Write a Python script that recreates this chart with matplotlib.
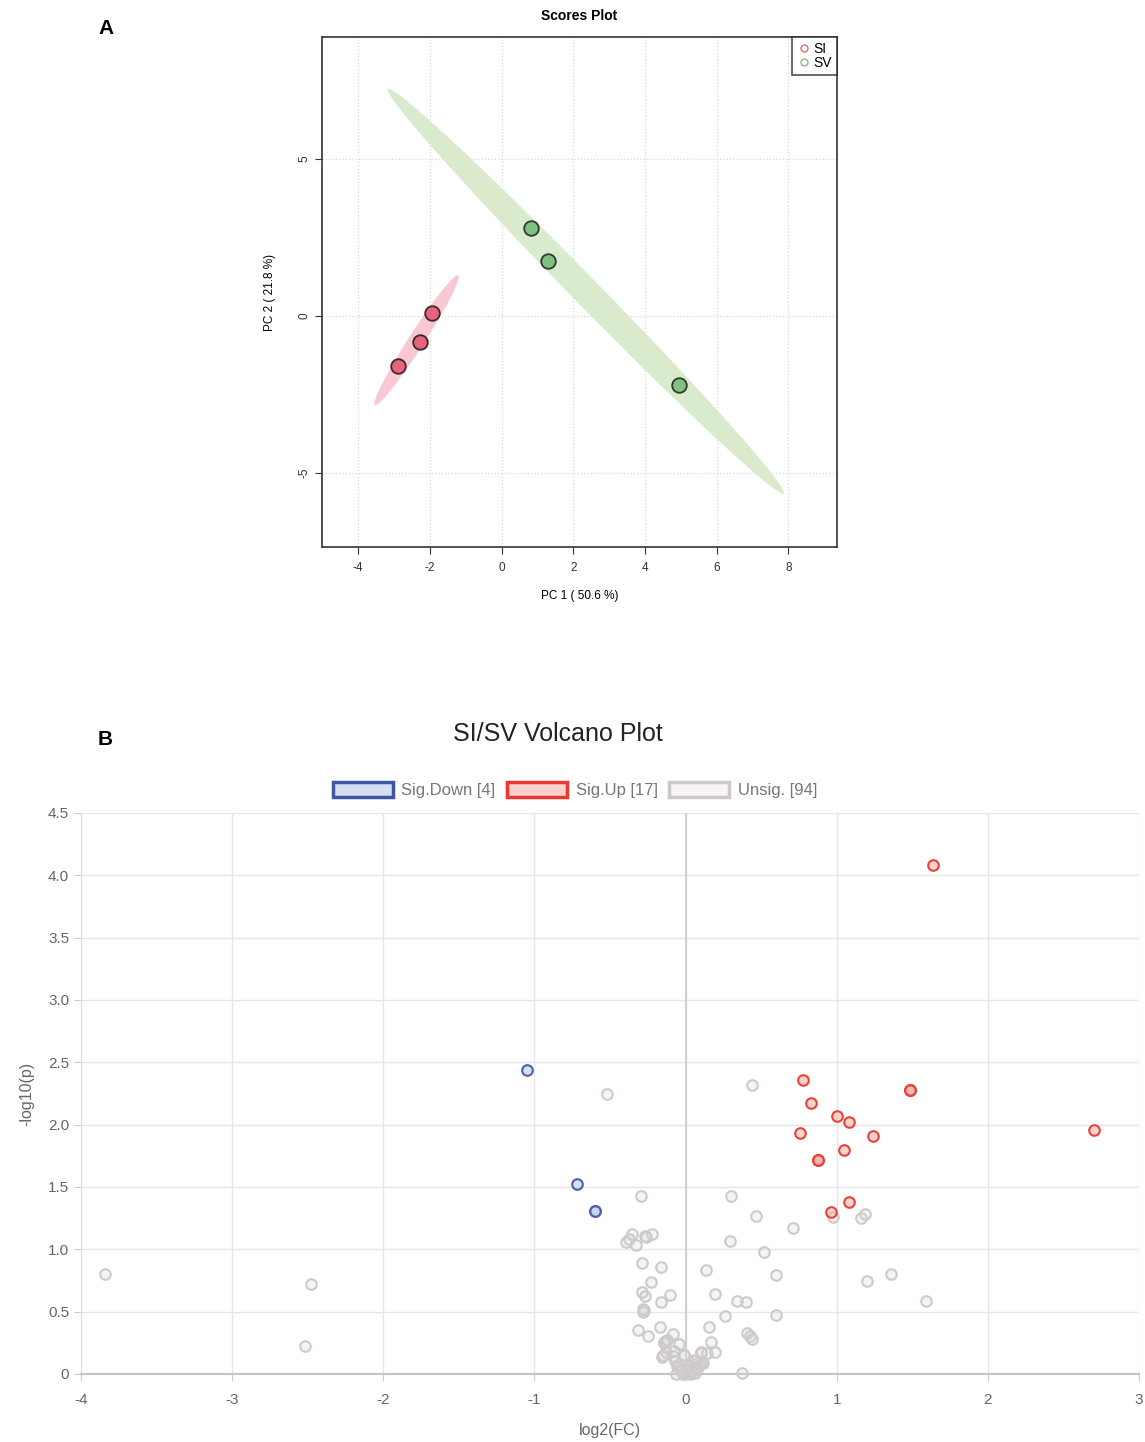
import numpy as np
import matplotlib.pyplot as plt
from matplotlib.patches import Ellipse, Patch
from matplotlib.lines import Line2D

plt.rcParams['font.family'] = ['Liberation Sans', 'DejaVu Sans']
plt.rcParams['axes.unicode_minus'] = False

# PCA scores
si_pc1 = [-2.89, -2.28, -1.94]
si_pc2 = [-1.59, -0.83, 0.10]
sv_pc1 = [0.82, 1.29, 4.95]
sv_pc2 = [2.80, 1.75, -2.20]

# volcano: log2 fold change and -log10(p)
down_fc = [-1.05, -0.72, -0.60, -0.60]
down_p = [2.44, 1.52, 1.31, 1.31]
up_fc = [1.635, 0.776, 0.827, 1.00, 1.079, 0.759, 1.24, 1.048, 0.878, 0.878, 0.878,
         1.485, 1.485, 1.485, 2.70, 1.081, 0.962]
up_p = [4.08, 2.36, 2.17, 2.07, 2.02, 1.93, 1.91, 1.80, 1.72, 1.72, 1.72,
        2.28, 2.28, 2.28, 1.96, 1.38, 1.30]
ns_fc = [-3.84, -2.475, -2.52, -0.518, 0.441, -0.296, 0.302, 0.465, 0.71, -0.353,
         -0.269, -0.22, -0.375, -0.395, -0.326, 0.291, 0.516, -0.291, -0.163, 0.134,
         0.598, -0.227, -0.287, -0.269, -0.101, 0.192, -0.165, 0.342, 0.397, -0.282,
         -0.282, 0.258, 0.596, -0.313, -0.17, 0.152, -0.081, -0.249, 0.408, 0.426,
         0.437, -0.132, -0.143, -0.042, 0.165, -0.132, -0.077, 0.099, 0.143, 0.194,
         -0.154, -0.081, -0.013, 0.066, 0.077, 0.104, -0.055, -0.026, 0.007, 0.022,
         0.04, -0.005, -0.066, 0.375, 0.975, 1.158, 1.189, 1.20, 1.36, 1.59,
         -0.140, -0.125, 0.011, 0.033, -0.044, 0.088, 0.015, 0.028, -0.011, 0.05,
         -0.02, 0.06, -0.277, -0.262, 0.10, 0.0, 0.045, -0.03, 0.02, 0.075,
         -0.07, 0.118, -0.15, 0.055]
ns_p = [0.80, 0.72, 0.225, 2.245, 2.32, 1.43, 1.43, 1.27, 1.17, 1.125,
        1.107, 1.12, 1.085, 1.056, 1.037, 1.069, 0.978, 0.888, 0.861, 0.834,
        0.791, 0.735, 0.66, 0.625, 0.636, 0.639, 0.577, 0.583, 0.575, 0.521,
        0.50, 0.468, 0.47, 0.35, 0.377, 0.38, 0.318, 0.305, 0.326, 0.307,
        0.281, 0.267, 0.246, 0.243, 0.254, 0.179, 0.184, 0.171, 0.171, 0.174,
        0.139, 0.144, 0.15, 0.112, 0.086, 0.078, 0.064, 0.045, 0.026, 0.014,
        0.018, 0.01, 0.0, 0.005, 1.26, 1.25, 1.28, 0.745, 0.80, 0.585,
        0.255, 0.27, 0.018, 0.032, 0.059, 0.072, 0.005, 0.0, 0.148, 0.02,
        0.003, 0.01, 0.515, 1.10, 0.175, 0.04, 0.03, 0.02, 0.06, 0.04,
        0.10, 0.09, 0.15, 0.115]

CHI2_95 = 5.991  # chi-square 95% quantile, 2 dof


def conf_ellipse(ax, x, y, color):
    pts = np.column_stack([x, y])
    cov = np.cov(pts, rowvar=False)
    vals, vecs = np.linalg.eigh(cov)
    order = vals.argsort()[::-1]
    vals, vecs = vals[order], vecs[:, order]
    angle = np.degrees(np.arctan2(vecs[1, 0], vecs[0, 0]))
    w, h = 2 * np.sqrt(CHI2_95 * vals)
    e = Ellipse(pts.mean(axis=0), w, h, angle=angle, facecolor=color,
                edgecolor='none', zorder=1)
    ax.add_patch(e)


fig = plt.figure(figsize=(11.45, 14.42), dpi=100)

# ---- A: scores plot
ax1 = fig.add_axes([0.2812, 0.6207, 0.4498, 0.3536])
conf_ellipse(ax1, si_pc1, si_pc2, '#f9c8d3')
conf_ellipse(ax1, sv_pc1, sv_pc2, '#d9ebcc')
ax1.scatter(si_pc1, si_pc2, s=110, c='#e8647c', edgecolors='#3a2a2a', linewidths=1.3, zorder=3)
ax1.scatter(sv_pc1, sv_pc2, s=110, c='#80c080', edgecolors='#2f3a2f', linewidths=1.3, zorder=3)
ax1.set_xlim(-5.01, 9.36)
ax1.set_ylim(-7.36, 8.88)
ax1.set_xticks([-4, -2, 0, 2, 4, 6, 8])
ax1.set_yticks([-5, 0, 5])
ax1.grid(True, color='#d8d8d8', linestyle=':', linewidth=0.9)
ax1.set_axisbelow(True)
for s in ax1.spines.values():
    s.set_linewidth(1.2)
    s.set_color('#333333')
ax1.tick_params(labelsize=8.5, colors='#333333', length=5)
ax1.tick_params(axis='x', pad=6)
plt.setp(ax1.get_yticklabels(), rotation=90, va='center')
ax1.set_title('Scores Plot', fontsize=10, fontweight='bold', pad=12)
ax1.set_xlabel('PC 1 ( 50.6 %)', fontsize=8.5, labelpad=11)
ax1.set_ylabel('PC 2 ( 21.8 %)', fontsize=8.5, labelpad=16)
leg_handles = [Line2D([], [], marker='o', ls='none', mfc='none', mec='#e8647c', ms=5, mew=1),
               Line2D([], [], marker='o', ls='none', mfc='none', mec='#80c080', ms=5, mew=1)]
leg1 = ax1.legend(leg_handles, ['SI', 'SV'], loc='upper right', fontsize=10,
                  frameon=True, fancybox=False, borderpad=0.35, handletextpad=0.2,
                  labelspacing=0.0, handlelength=1.0, borderaxespad=0.0)
leg1.get_frame().set_edgecolor('#222222')
leg1.get_frame().set_linewidth(1.2)
fig.text(0.093, 0.980, 'A', fontsize=15, fontweight='bold', ha='center', va='center')

# ---- B: volcano plot
ax2 = fig.add_axes([0.0707, 0.0472, 0.9241, 0.389])
ax2.set_xlim(-4, 3)
ax2.set_ylim(0, 4.5)
ax2.set_xticks(np.arange(-4, 4, 1))
ax2.set_yticks(np.arange(0, 4.51, 0.5))
ax2.set_yticklabels(['0'] + ['%.1f' % v for v in np.arange(0.5, 4.51, 0.5)])
ax2.grid(True, color='#e6e6e6', linewidth=1)
ax2.set_axisbelow(True)
ax2.axvline(0, color='#cccccc', linewidth=1.3, zorder=1)
for side in ['top', 'right']:
    ax2.spines[side].set_visible(False)
ax2.spines['left'].set_color('#e0dcdc')
ax2.spines['bottom'].set_color('#c8c2c2')
ax2.spines['bottom'].set_linewidth(1.5)
ax2.tick_params(labelsize=11, colors='#666666', length=5)
ax2.tick_params(axis='both', color='#cccccc')
ax2.tick_params(axis='x', pad=9)

ax2.scatter(ns_fc, ns_p, s=58, facecolors=(0.85, 0.83, 0.83, 0.25), edgecolors='#cfcaca',
            linewidths=1.5, zorder=3, clip_on=False)
ax2.scatter(down_fc, down_p, s=58, facecolors=(0.75, 0.80, 0.95, 0.6), edgecolors='#4a60aa',
            linewidths=1.5, zorder=4, clip_on=False)
ax2.scatter(up_fc, up_p, s=58, facecolors=(0.98, 0.70, 0.66, 0.55), edgecolors='#e8433a',
            linewidths=1.5, zorder=4, clip_on=False)

ax2.set_xlabel('log2(FC)', fontsize=11.5, color='#666666', labelpad=11)
ax2.set_ylabel('-log10(p)', fontsize=11.5, color='#666666', labelpad=10)
ax2.set_title('SI/SV Volcano Plot', fontsize=18, color='#222222', pad=52, x=0.451)

vol_handles = [Patch(facecolor='#d6def3', edgecolor='#3d57a3', linewidth=2.5),
               Patch(facecolor='#fbd0cd', edgecolor='#e8382f', linewidth=2.5),
               Patch(facecolor='#f7f4f4', edgecolor='#cfc8c8', linewidth=2.5)]
vol_labels = ['Sig.Down [%d]' % len(down_fc), 'Sig.Up [%d]' % len(up_fc),
              'Unsig. [%d]' % len(ns_fc)]
leg2 = ax2.legend(vol_handles, vol_labels, loc='lower center', bbox_to_anchor=(0.467, 1.0),
                  ncol=3, frameon=False, fontsize=12, handlelength=3.6, handleheight=1.0,
                  columnspacing=0.7, handletextpad=0.5)
for t in leg2.get_texts():
    t.set_color('#777777')
fig.text(0.092, 0.487, 'B', fontsize=15, fontweight='bold', ha='center', va='center')

fig.savefig('out.png', dpi=100)
